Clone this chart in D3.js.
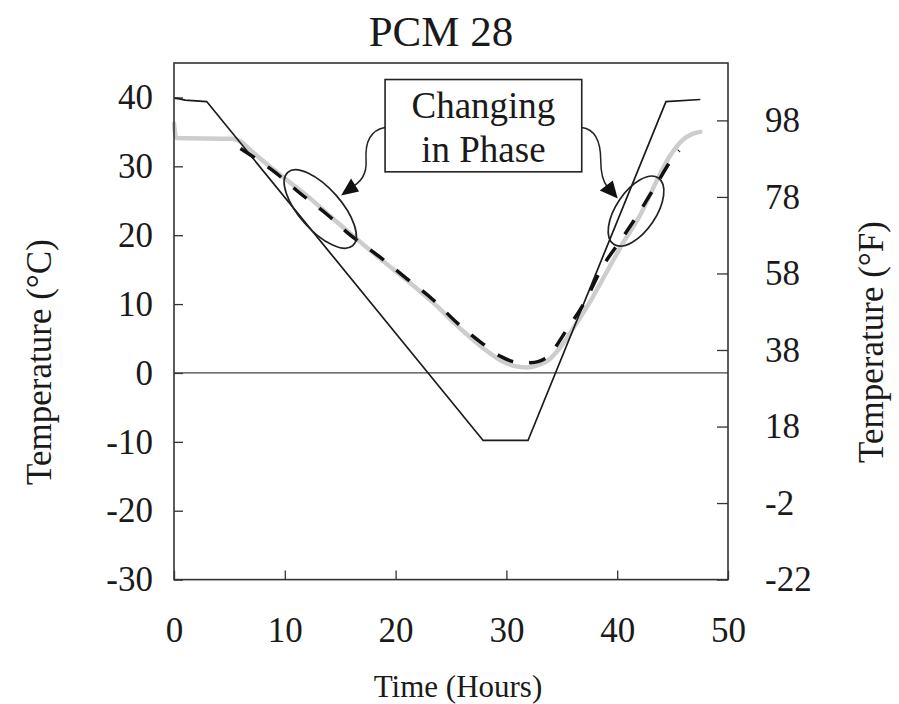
<!DOCTYPE html>
<html>
<head>
<meta charset="utf-8">
<script src="https://cdn.jsdelivr.net/npm/d3@7"></script>
<style>
body { margin: 0; background: #fff; }
text { font-family: "Liberation Serif", "Times New Roman", serif; fill: #1a1a1a; }
</style>
</head>
<body>
<svg width="899" height="704"></svg>
<script>
// air temperature (thin black)
var airTime = [0, 0.5, 1.0, 2.95, 27.9, 31.95, 44.4, 47.5];
var airTemp = [39.9, 39.8, 39.6, 39.4, -9.8, -9.8, 39.4, 39.7];

// measured PCM temperature (light grey)
var pcmTime = [0, 0.2, 5.3, 6.0, 7.0, 8.7, 10.5, 12.1, 14.0, 16.1, 18.6, 21.3, 23.4, 25.6, 27.9, 29.5, 30.8, 31.8, 32.8, 33.9, 35.0, 36.0, 37.5, 39.1, 40.5, 42.1, 43.0, 44.8, 45.9, 46.8, 47.5];
var pcmTemp = [36.2, 34.1, 34.0, 33.6, 32.2, 29.9, 27.6, 25.6, 22.9, 20.0, 16.6, 13.1, 10.2, 6.8, 3.6, 1.8, 1.0, 0.8, 1.1, 2.0, 4.0, 6.4, 10.2, 14.8, 18.8, 23.0, 26.0, 31.6, 33.8, 34.7, 35.0];

// simulated temperature (black dashed)
var simTime = [6.0, 8.9, 11.6, 13.9, 15.7, 18.6, 21.0, 23.4, 25.6, 27.9, 29.5, 30.8, 32.2, 33.5, 35.5, 37.1, 38.6, 40.5, 42.1, 43.4, 45.2, 45.6];
var simTemp = [32.6, 29.4, 25.8, 22.9, 20.3, 16.8, 13.7, 10.6, 7.2, 4.2, 2.4, 1.6, 1.5, 2.1, 6.4, 10.4, 15.2, 19.7, 23.6, 27.0, 31.6, 32.3];

var xTicks = [0, 10, 20, 30, 40, 50];
var cTicks = [-30, -20, -10, 0, 10, 20, 30, 40];
var fTicks = [-22, -2, 18, 38, 58, 78, 98];

var svg = d3.select("svg");
var plotL = 174, plotR = 728, plotT = 63, plotB = 579.6;

var x = d3.scaleLinear().domain([0, 50]).range([plotL, plotR]);
var y = d3.scaleLinear().domain([-30, 45]).range([plotB, plotT]);
var yF = d3.scaleLinear().domain([-22, 113]).range([plotB, plotT]);

svg.append("rect").attr("width", 899).attr("height", 704).attr("fill", "#fff");

function zip(ts, vs) { return ts.map(function(t, i) { return {t: t, v: vs[i]}; }); }
// plain hyphen for negatives, as in the original
var plain = function(d) { return String(d); };

// axes
var gX = svg.append("g")
    .attr("transform", "translate(0," + plotB + ")")
    .call(d3.axisBottom(x).tickValues(xTicks).tickFormat(plain).tickSizeInner(-9).tickSizeOuter(0).tickPadding(38));
var gY = svg.append("g")
    .attr("transform", "translate(" + plotL + ",0)")
    .call(d3.axisLeft(y).tickValues(cTicks).tickFormat(plain).tickSizeInner(-9).tickSizeOuter(0).tickPadding(21));
var gF = svg.append("g")
    .attr("transform", "translate(" + plotR + ",0)")
    .call(d3.axisRight(yF).tickValues(fTicks).tickFormat(plain).tickSizeInner(-11).tickSizeOuter(0).tickPadding(37));

[gX, gY, gF].forEach(function(g) {
    g.select(".domain").remove();
    g.selectAll(".tick line").attr("stroke", "#333").attr("stroke-width", 1.3);
    g.selectAll(".tick text")
        .style("font-family", "'Liberation Serif', 'Times New Roman', serif")
        .style("font-size", "35px")
        .attr("fill", "#1a1a1a");
});

// zero line
svg.append("line")
    .attr("x1", x(0)).attr("x2", x(50))
    .attr("y1", y(0)).attr("y2", y(0))
    .attr("stroke", "#444").attr("stroke-width", 1.3);

var line = d3.line()
    .x(function(d) { return x(d.t); })
    .y(function(d) { return y(d.v); });

svg.append("path")
    .datum(zip(pcmTime, pcmTemp))
    .attr("fill", "none")
    .attr("stroke", "#cdcdcd")
    .attr("stroke-width", 4.5)
    .attr("stroke-linejoin", "round")
    .attr("stroke-linecap", "round")
    .attr("d", line.curve(d3.curveMonotoneX));

svg.append("path")
    .datum(zip(airTime, airTemp))
    .attr("fill", "none")
    .attr("stroke", "#1a1a1a")
    .attr("stroke-width", 1.7)
    .attr("d", line.curve(d3.curveLinear));

svg.append("path")
    .datum(zip(simTime, simTemp))
    .attr("fill", "none")
    .attr("stroke", "#111")
    .attr("stroke-width", 3.5)
    .attr("stroke-dasharray", "17,16")
    .attr("d", line.curve(d3.curveMonotoneX));

// frame
svg.append("rect")
    .attr("x", plotL).attr("y", plotT)
    .attr("width", plotR - plotL).attr("height", plotB - plotT)
    .attr("fill", "none").attr("stroke", "#333").attr("stroke-width", 1.6);

// annotation: ellipses round the phase change
function ellipse(t, v, rx, ry, angle) {
    svg.append("ellipse")
        .attr("cx", 0).attr("cy", 0).attr("rx", rx).attr("ry", ry)
        .attr("transform", "translate(" + x(t) + "," + y(v) + ") rotate(" + angle + ")")
        .attr("fill", "none").attr("stroke", "#222").attr("stroke-width", 1.7);
}
ellipse(13.2, 23.8, 49, 21, 48.5);
ellipse(41.7, 23.5, 40, 20, -56);

// annotation box
var bx0 = x(19.05), bx1 = x(36.8), by0 = y(42.6), by1 = y(29.2);
svg.append("rect")
    .attr("x", bx0).attr("y", by0).attr("width", bx1 - bx0).attr("height", by1 - by0)
    .attr("fill", "#fff").attr("stroke", "#222").attr("stroke-width", 1.6);
var bcx = (bx0 + bx1) / 2;
svg.append("text").attr("x", bcx).attr("y", by0 + 38)
    .attr("text-anchor", "middle").style("font-size", "37px").text("Changing");
svg.append("text").attr("x", bcx).attr("y", by0 + 82)
    .attr("text-anchor", "middle").style("font-size", "37px").text("in Phase");

// curved arrows from the box
var bm = by0 + 48;
svg.append("path")
    .attr("d", "M" + bx0 + "," + bm +
        " C" + (bx0 - 17) + "," + (bm + 3) + " " + (bx0 - 20) + "," + (bm + 18) + " " + (bx0 - 19) + "," + (bm + 33) +
        " C" + (bx0 - 18) + "," + (bm + 48) + " " + (bx0 - 25) + "," + (bm + 56) + " " + (bx0 - 36) + "," + (bm + 61))
    .attr("fill", "none").attr("stroke", "#222").attr("stroke-width", 1.5);
svg.append("path")
    .attr("d", "M" + (bx0 - 44) + "," + (bm + 68) + " L" + (bx0 - 34) + "," + (bm + 51) + " L" + (bx0 - 26) + "," + (bm + 64) + "Z")
    .attr("fill", "#111");

svg.append("path")
    .attr("d", "M" + bx1 + "," + bm +
        " C" + (bx1 + 16) + "," + (bm + 2) + " " + (bx1 + 19) + "," + (bm + 18) + " " + (bx1 + 19) + "," + (bm + 33) +
        " C" + (bx1 + 19) + "," + (bm + 46) + " " + (bx1 + 21) + "," + (bm + 54) + " " + (bx1 + 26) + "," + (bm + 60))
    .attr("fill", "none").attr("stroke", "#222").attr("stroke-width", 1.5);
svg.append("path")
    .attr("d", "M" + (bx1 + 36) + "," + (bm + 71) + " L" + (bx1 + 18) + "," + (bm + 63) + " L" + (bx1 + 31) + "," + (bm + 53) + "Z")
    .attr("fill", "#111");

// titles
svg.append("text").attr("x", 441).attr("y", 46)
    .attr("text-anchor", "middle").style("font-size", "43px").text("PCM 28");
svg.append("text").attr("x", 458).attr("y", 697)
    .attr("text-anchor", "middle").style("font-size", "31px").text("Time (Hours)");
svg.append("text")
    .attr("transform", "translate(40,362) rotate(-90)")
    .attr("dy", "0.3em")
    .attr("text-anchor", "middle").style("font-size", "35px").text("Temperature (°C)");
svg.append("text")
    .attr("transform", "translate(872,342) rotate(-90)")
    .attr("dy", "0.3em")
    .attr("text-anchor", "middle").style("font-size", "35px").text("Temperature (°F)");
</script>
</body>
</html>
